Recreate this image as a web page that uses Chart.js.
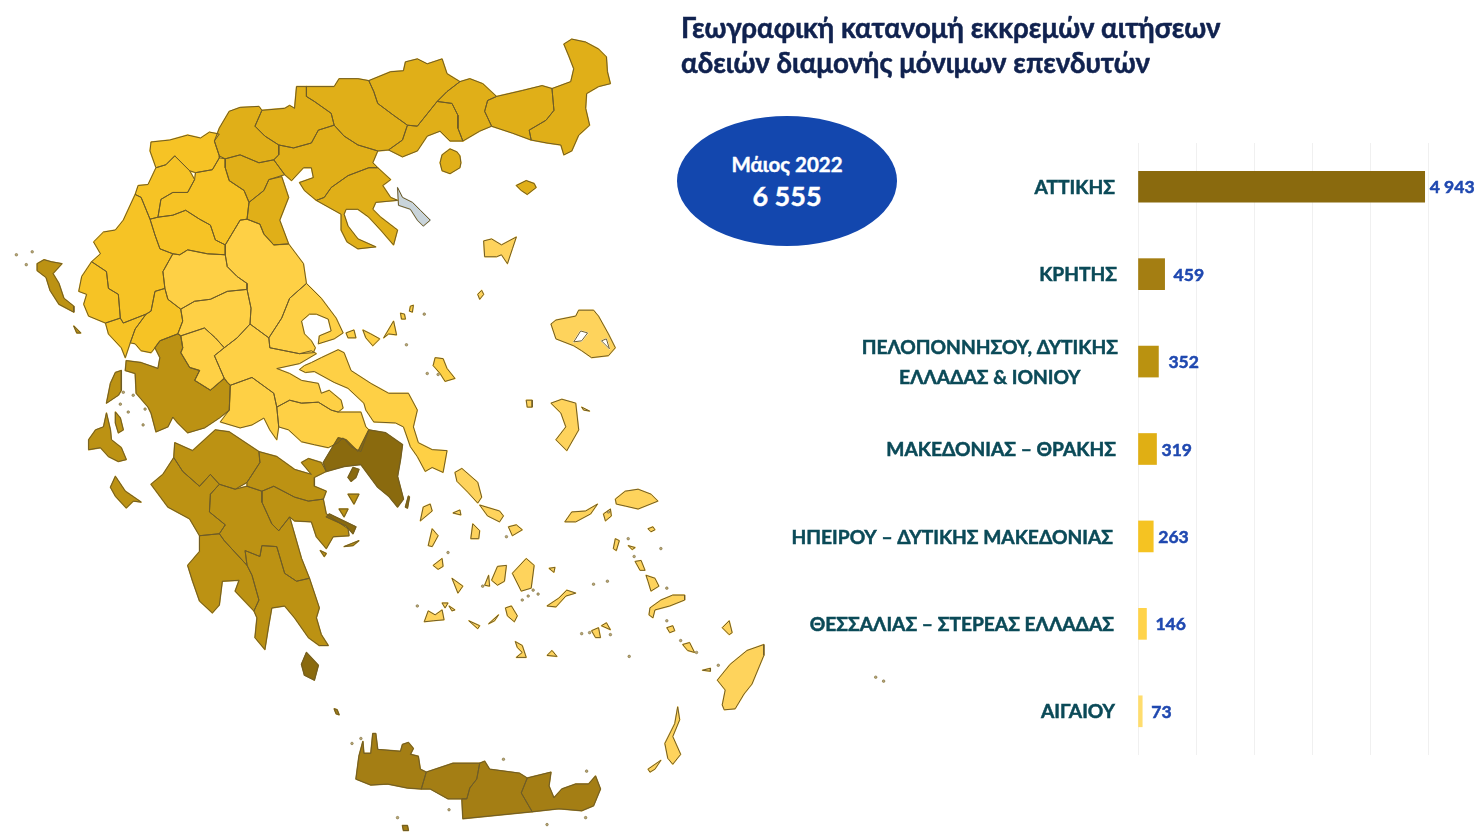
<!DOCTYPE html>
<html lang="el">
<head>
<meta charset="utf-8">
<title>Γεωγραφική κατανομή</title>
<script src="https://cdn.jsdelivr.net/npm/chart.js@4"></script>
<style>
html,body{margin:0;padding:0;background:#fff;width:1480px;height:836px;overflow:hidden;font-family:Lato,"Open Sans",sans-serif}
#map_chart{position:absolute;left:0;top:0}
#bar_chart{position:absolute;left:780px;top:0}
#title{position:absolute;left:681px;top:10px;color:#10224f;font-weight:700;font-size:27.7px;line-height:35px;white-space:nowrap;-webkit-text-stroke:.5px #10224f}
#oval{position:absolute;left:677px;top:116px;width:220px;height:130px;border-radius:50%;background:#1347ae;color:#fff;text-align:center;font-weight:700;-webkit-text-stroke:.4px #fff}
#oval .m{font-size:20.5px;margin-top:34px;line-height:28px}
#oval .t{font-size:27px;line-height:36px}
</style>
</head>
<body>
<canvas id="map_chart" width="900" height="836"></canvas>
<canvas id="bar_chart" width="700" height="836"></canvas>
<div id="title">Γεωγραφική κατανομή εκκρεμών αιτήσεων<br>αδειών διαμονής μόνιμων επενδυτών</div>
<div id="oval"><div class="m">Μάιος 2022</div><div class="t">6 555</div></div>
<script>
// bar chart data
var categories = [['ΑΤΤΙΚΗΣ'],['ΚΡΗΤΗΣ'],['ΠΕΛΟΠΟΝΝΗΣΟΥ, ΔΥΤΙΚΗΣ','ΕΛΛΑΔΑΣ & ΙΟΝΙΟΥ'],['ΜΑΚΕΔΟΝΙΑΣ – ΘΡΑΚΗΣ'],['ΗΠΕΙΡΟΥ – ΔΥΤΙΚΗΣ ΜΑΚΕΔΟΝΙΑΣ'],['ΘΕΣΣΑΛΙΑΣ – ΣΤΕΡΕΑΣ ΕΛΛΑΔΑΣ'],['ΑΙΓΑΙΟΥ']];
var pending = [4943,459,352,319,263,146,73];
var barColors = ['#8a6a0e','#a47e12','#ba9210','#e0af14','#f5c322','#ffd34a','#ffdd6e'];
var valueGaps = [5,9,10,5,5,9,9];
var labelGaps = [23,21,20,22,25,24,23];

// map outlines: flat x,y lists, one list per polygon
var attiki = [
 [322,463,337,438,345,440,357,452,368,430,385,433,402,445,400,460,397,477,403,500,397,508,388,497,377,488,360,465,343,467,325,472],
 [347,478,352,468,358,470,355,478,350,482],
 [325,518,328,515,355,528,352,535,345,527],
 [305,655,317,668,313,683,303,678,300,667],
 [405,508,408,497,409,498,407,509]
];
var kriti = [
 [358,760,362,745,363,757,370,757,372,737,375,737,377,753,400,755,402,748,408,746,413,752,410,758,418,760,420,773,426,776,421,793,407,792,387,788,370,789,355,783],
 [426,776,453,767,480,767,477,783,470,792,467,803,462,803,448,803,430,793,421,793],
 [480,767,485,765,490,773,520,777,528,782,522,797,533,816,513,818,463,823,462,803,467,803,470,792,477,783],
 [528,782,552,776,550,790,555,802,563,793,577,788,590,788,597,780,602,793,595,810,583,815,560,813,533,816,522,797],
 [402,830,407,830,408,835,403,835],
 [333,712,336,713,338,718,335,717]
];
var peloponnisos = [
 [172,443,190,451,213,430,227,432,257,452,258,463,245,483,233,490,217,485,208,475,197,487,180,472,171,458],
 [171,458,180,472,197,487,208,475,217,485,208,495,207,513,223,526,217,535,197,537,187,520,165,508,148,485,160,475],
 [197,537,217,535,222,542,245,567,250,577,257,602,252,613,233,593,237,582,220,583,217,607,210,615,197,603,190,583,185,567,197,553],
 [208,495,217,485,233,490,245,487,260,492,260,503,270,525,277,532,288,518,300,560,308,580,295,583,283,575,275,548,260,547,258,558,243,552,245,567,222,542,217,535,223,526,207,513],
 [243,552,258,558,260,547,275,548,283,575,295,583,308,580,318,610,315,620,320,637,327,648,318,648,307,640,293,620,283,608,270,610,267,627,263,652,253,640,255,620,252,613,257,602,250,577,245,567],
 [257,452,275,457,293,470,310,475,300,463,307,459,320,463,325,472,313,478,313,487,325,492,322,500,307,502,293,498,272,487,260,492,245,487,245,483,258,463],
 [260,492,272,487,293,498,307,502,322,500,325,515,347,530,348,537,332,538,325,550,315,538,310,523,293,522,288,518,277,532,270,525,260,503],
 [178,335,180,347,178,352,187,367,197,370,192,380,208,390,222,378,225,382,228,385,227,410,217,418,202,428,185,433,175,423,170,417,165,427,153,432,148,413,145,407,133,393,132,373,122,370,123,360,138,362,155,368,157,357,152,347,157,340,175,333],
 [112,372,118,370,118,390,115,395,103,403,107,383],
 [103,413,107,430,108,440,118,448,123,460,115,462,105,457,97,448,85,450,85,440,92,430,100,427],
 [112,412,117,418,120,430,115,433,112,423],
 [112,477,122,492,138,503,130,502,123,509,112,497,107,488],
 [33,262,40,258,47,260,58,262,49,272,55,282,60,297,70,305,70,311,55,303,46,289,42,276,33,269],
 [70,325,77,332,73,332],
 [347,495,358,495,353,505],
 [338,510,347,510,343,518],
 [343,548,358,542,352,547],
 [319,552,325,555,323,558]
];
var makedonia = [
 [565,40,573,35,587,38,600,45,608,53,609,68,612,80,600,83,588,90,587,105,591,122,580,132,573,148,565,152,562,142,548,140,532,137,530,127,547,117,555,107,553,85,572,78,575,65,570,52],
 [497,93,523,87,543,82,553,85,555,107,547,117,530,127,532,137,513,130,492,123,485,108,488,97],
 [460,78,470,75,483,80,497,93,488,97,485,108,492,123,480,128,463,138,458,125,458,112,452,100,437,98,447,88],
 [368,77,390,68,403,67,405,58,417,55,427,60,442,55,447,70,460,78,447,88,437,98,417,123,407,122,393,112,377,100,373,88],
 [407,122,417,123,437,98,452,100,458,112,458,125,463,138,450,138,440,128,427,133,417,148,402,154,388,147,402,137],
 [305,83,333,83,338,75,357,75,368,77,373,88,377,100,393,112,407,122,402,137,388,147,377,148,357,142,343,133,333,122,330,110,313,98,305,93],
 [295,83,305,83,305,93,313,98,330,110,333,122,317,127,310,140,292,145,277,142,263,133,253,123,260,107,283,105,288,102,293,105],
 [260,107,253,123,263,133,277,142,277,152,272,157,257,160,238,152,223,156,217,153,212,138,217,125,227,108,238,104,257,103],
 [223,156,238,152,257,160,272,157,283,172,267,177,262,188,247,200,242,188,227,178,223,165],
 [267,177,280,174,287,195,278,218,287,242,272,243,262,232,258,222,245,217,247,200,262,188],
 [277,142,292,145,310,140,317,127,333,122,343,133,357,142,377,148,372,160,377,165,368,165,347,173,330,185,323,195,315,198,303,188,298,180,312,175,310,165,302,165,290,178,283,172,272,157,277,152],
 [315,198,323,195,330,185,347,173,368,165,377,165,390,177,382,183,390,195,397,198,375,200,372,207,380,215,397,228,393,243,380,228,368,215,357,207,345,207,343,212,347,224,357,237,375,245,357,247,346,240,340,228,340,212],
 [450,146,457,149,460,153,461,160,460,165,450,171,442,168,440,160,442,152],
 [517,183,527,178,535,181,537,185,528,192,522,188]
];
var agionOros = [[397,185,402,195,412,200,420,208,430,218,423,224,417,218,410,207,398,203]];
var ipeiros = [
 [148,139,167,137,185,132,198,135,207,129,217,131,212,138,217,153,217,155,210,167,193,170,187,168,172,153,163,162,153,165,147,148],
 [153,165,163,162,172,153,187,168,192,177,185,190,170,190,158,197,155,215,147,217,138,195,132,192,135,183,145,182],
 [193,170,210,167,217,155,223,156,223,165,227,178,242,188,247,200,245,217,238,218,223,243,213,238,208,223,197,217,183,208,170,213,155,215,158,197,170,190,185,190,192,177],
 [147,217,155,215,170,213,183,208,197,217,208,223,213,238,223,243,223,253,205,252,185,248,177,253,170,252,157,247,152,233],
 [132,192,138,195,147,217,152,233,157,247,170,252,160,270,162,287,152,290,148,310,143,313,120,322,117,317,115,293,105,287,103,270,88,260,97,252,90,240,100,230,112,228,120,218],
 [88,260,103,270,105,287,115,293,117,317,102,322,85,315,80,303,83,293,75,290,78,275],
 [102,322,117,317,120,322,143,313,132,328,127,342,122,357,118,347,105,333],
 [143,313,148,310,152,290,162,287,165,298,178,308,180,320,175,333,157,340,152,347,148,352,138,350,132,343,127,342,132,328]
];
var thessalia = [
 [170,252,177,253,185,248,205,252,223,253,225,265,235,275,245,282,245,288,225,290,208,298,192,300,178,308,165,298,162,287,160,270],
 [178,308,192,300,208,298,225,290,245,288,249,307,248,323,235,337,222,347,213,337,202,327,178,335,175,333,180,320],
 [223,243,238,218,245,217,258,222,262,232,272,243,287,242,302,262,305,282,288,297,280,317,267,337,248,323,249,307,245,288,245,282,235,275,225,265,223,253],
 [305,282,320,297,335,317,342,332,333,338,317,343,318,335,330,330,327,318,315,313,308,313,300,320,303,333,310,340,314,347,312,352,298,353,268,347,267,337,280,317,288,297],
 [248,323,267,337,268,347,298,353,310,350,315,353,298,363,275,368,288,373,300,380,317,383,320,393,328,390,340,400,342,408,337,412,330,410,317,402,300,403,288,400,275,407,272,393,250,377,228,385,225,382,222,378,212,355,222,347,235,337],
 [178,335,202,327,213,337,222,347,212,355,222,378,208,390,192,380,197,370,187,367,178,352,180,347],
 [228,385,250,377,272,393,275,407,277,427,275,440,268,430,262,418,250,425,238,428,218,422,227,410],
 [275,407,288,400,300,403,317,402,330,410,337,412,347,412,360,412,365,427,368,430,360,452,350,447,342,438,337,443,327,448,313,445,300,442,287,430,277,427],
 [298,369,303,365,310,362,320,357,337,349,343,352,350,370,370,383,388,393,408,393,417,410,413,427,418,443,432,450,447,451,443,473,432,468,425,472,417,457,410,447,403,427,395,423,373,422,365,410,363,403,347,388,333,382,313,371,304,372],
 [345,332,353,329,355,337,347,337],
 [362,329,370,333,379,338,372,345,365,337],
 [383,337,393,320,396,334,388,333],
 [400,312,404,313,405,318,401,318],
 [410,305,413,304,412,311,409,310],
 [435,357,443,358,447,368,455,378,445,381,440,373,433,365]
];
var aigaio = [
 [552,323,557,319,577,315,580,309,595,309,600,315,610,333,617,347,610,355,593,357,583,350,575,345,557,338],
 [484,239,492,237,502,243,517,235,513,247,508,262,502,253,497,255,485,255],
 [478,293,482,289,484,293,480,298],
 [552,403,563,399,577,403,580,430,568,451,557,440,567,427,562,413],
 [527,400,533,400,533,407,528,407],
 [583,407,591,411,585,410],
 [455,473,462,469,478,483,482,498,478,504,468,493,457,482],
 [480,506,500,512,504,517,500,523,488,517],
 [420,522,423,508,430,505,432,512],
 [453,514,460,511,461,516],
 [428,547,432,530,438,537,432,548],
 [471,540,473,525,480,532,479,540],
 [509,528,517,526,523,531,513,537],
 [433,567,442,560,443,568,438,571],
 [452,580,463,588,458,595],
 [492,582,498,568,507,567,505,583,498,587],
 [513,575,527,560,535,567,532,590,522,593],
 [485,587,489,577,490,588],
 [550,570,556,569,555,574],
 [424,624,428,613,435,617,442,612,444,622,433,623],
 [442,605,448,605,445,610],
 [449,608,455,612,452,613],
 [469,623,480,628,478,631],
 [489,626,499,617,495,623],
 [506,610,512,608,518,618,515,624,508,618],
 [548,608,560,600,568,592,577,595,567,598,557,609],
 [516,644,523,648,527,660,517,660,523,655,518,650],
 [548,658,553,653,558,659],
 [593,633,600,630,602,640,597,640],
 [603,628,608,625,612,632],
 [617,500,627,492,640,490,653,495,660,502,640,510,627,507,618,505],
 [566,523,573,513,587,512,599,505,592,515,577,523],
 [605,515,612,510,613,517,607,522],
 [615,550,617,540,621,542,618,552],
 [630,547,637,549,634,551],
 [637,563,643,562,647,572,642,572],
 [648,577,657,580,661,588,653,593,650,583],
 [652,610,663,602,675,597,687,597,687,602,672,608,657,612,655,620,651,617],
 [669,630,675,628,677,633,672,635],
 [685,647,692,645,697,655,690,653],
 [725,630,732,623,735,635,732,637],
 [705,673,713,671,713,674],
 [650,530,655,528,657,531,653,533],
 [767,647,767,658,755,687,747,697,738,712,727,713,725,708,728,693,720,683,733,667,750,653],
 [680,710,682,723,675,740,683,758,675,768,670,762,667,747,677,727],
 [650,773,663,764,657,773,652,776]
];
var gulfs = [
 [575,341,582,330,589,332,583,340],
 [603,340,608,338,611,348]
];
var islets = [[12,253],[28,250],[22,263],[125,412],[120,392],[117,404],[130,395],[142,409],[140,425],[406,344],[424,313],[427,373],[438,374],[448,554],[417,608],[595,586],[609,583],[583,636],[591,635],[612,637],[631,659],[663,550],[630,540],[636,558],[669,623],[683,643],[699,655],[721,668],[507,538],[534,592],[529,598],[539,596],[523,602],[483,588],[669,590],[610,513],[504,763],[588,775],[587,822],[548,829],[449,814],[397,822],[351,747],[360,742],[880,680],[888,684]];

var mapGroups = [
 {polys: gulfs, color: '#ffffff'},
 {polys: attiki, color: '#8a6a0e'},
 {polys: kriti, color: '#a47e14'},
 {polys: peloponnisos, color: '#bc9213'},
 {polys: makedonia, color: '#e0af18'},
 {polys: agionOros, color: '#c9d4da'},
 {polys: ipeiros, color: '#f6c325'},
 {polys: thessalia, color: '#fed045'},
 {polys: aigaio, color: '#fed35c'}
];

function to_points(poly){
	var pts = [];
	for(var i=0;i<poly.length;i+=2){
		pts.push({x:poly[i],y:poly[i+1]});
	}
	pts.push({x:poly[0],y:poly[1]});
	return pts;
}

function draw_map(){
	var datasets = [];
	mapGroups.forEach(function(g){
		g.polys.forEach(function(p){
			datasets.push({data:to_points(p),showLine:true,pointRadius:0,borderWidth:1,borderColor:'#6e5c28',areaColor:g.color,tension:0});
		});
	});
	datasets.push({data:islets.map(function(p){return {x:p[0],y:p[1]};}),showLine:false,pointRadius:1.3,borderWidth:0.5,borderColor:'#6e5c28',backgroundColor:'#b8a878'});

	// fills every closed outline from the points the scales placed, before any outline is stroked
	var fillAreas = {
		id:'fillAreas',
		beforeDatasetsDraw:function(chart){
			var ctx = chart.ctx;
			ctx.save();
			ctx.lineWidth = 1.5;
			ctx.lineJoin = 'round';
			for(var d=chart.data.datasets.length-1;d>=0;d--){
				var color = chart.data.datasets[d].areaColor;
				if(!color) continue;
				var pts = chart.getDatasetMeta(d).data;
				ctx.beginPath();
				for(var i=0;i<pts.length;i++){
					if(i==0) ctx.moveTo(pts[i].x,pts[i].y); else ctx.lineTo(pts[i].x,pts[i].y);
				}
				ctx.closePath();
				ctx.fillStyle = color;
				ctx.strokeStyle = color;
				ctx.fill();
				ctx.stroke();
			}
			ctx.restore();
		}
	};

	new Chart(document.getElementById('map_chart').getContext('2d'),{
		type:'scatter',
		data:{datasets:datasets},
		plugins:[fillAreas],
		options:{
			responsive:false,animation:false,
			layout:{padding:0},
			plugins:{legend:{display:false},tooltip:{enabled:false}},
			scales:{
				x:{type:'linear',display:false,min:0,max:900},
				y:{type:'linear',display:false,min:0,max:836,reverse:true}
			}
		}
	});
}

function fmt(v){
	return String(v).replace(/\B(?=(\d{3})+$)/g,' ');
}

function draw_bars(){
	var barLabels = {
		id:'barLabels',
		afterDatasetsDraw:function(chart){
			var ctx = chart.ctx, meta = chart.getDatasetMeta(0), yScale = chart.scales.y, left = chart.chartArea.left;
			ctx.save();
			ctx.textBaseline = 'middle';
			ctx.lineWidth = 0.5;
			ctx.font = '700 19.2px Lato, "Open Sans", sans-serif';
			ctx.fillStyle = ctx.strokeStyle = '#0b4a58';
			ctx.textAlign = 'center';
			categories.forEach(function(lines,i){
				var y = yScale.getPixelForValue(i);
				var w = 0;
				lines.forEach(function(s){ w = Math.max(w,ctx.measureText(s).width); });
				lines.forEach(function(s,k){
					var ly = y+1+(k-(lines.length-1)/2)*30;
					ctx.fillText(s,left-labelGaps[i]-w/2,ly);
					ctx.strokeText(s,left-labelGaps[i]-w/2,ly);
				});
			});
			ctx.font = '700 17.5px Lato, "Open Sans", sans-serif';
			ctx.fillStyle = ctx.strokeStyle = '#1f48b0';
			ctx.textAlign = 'left';
			pending.forEach(function(v,i){
				ctx.fillText(fmt(v),meta.data[i].x+valueGaps[i],meta.data[i].y+1);
				ctx.strokeText(fmt(v),meta.data[i].x+valueGaps[i],meta.data[i].y+1);
			});
			ctx.restore();
		}
	};

	new Chart(document.getElementById('bar_chart').getContext('2d'),{
		type:'bar',
		data:{
			labels:categories.map(function(c){return c.join(' ');}),
			datasets:[{data:pending,backgroundColor:barColors,barThickness:31}]
		},
		plugins:[barLabels],
		options:{
			indexAxis:'y',responsive:false,animation:false,
			layout:{padding:{left:358,right:52,top:143,bottom:81}},
			plugins:{legend:{display:false},tooltip:{enabled:false}},
			scales:{
				x:{min:0,max:5000,ticks:{display:false,stepSize:1000},grid:{color:'#f0f0f0',drawTicks:false},border:{display:false}},
				y:{ticks:{display:false},grid:{display:false,drawTicks:false},border:{display:false}}
			}
		}
	});
}

draw_map();
draw_bars();
</script>
</body>
</html>
